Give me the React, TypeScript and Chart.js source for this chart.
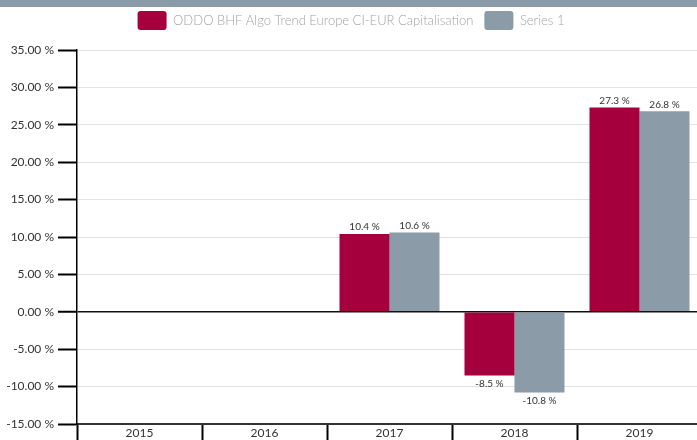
import React, { useEffect, useRef } from 'react';
import { Chart, registerables } from 'chart.js';
Chart.register(...registerables);

const categories = ['2015', '2016', '2017', '2018', '2019'];
const fundValues: (number | null)[] = [null, null, 10.4, -8.5, 27.3];
const seriesValues: (number | null)[] = [null, null, 10.6, -10.8, 26.8];
const seriesNames = ['ODDO BHF Algo Trend Europe CI-EUR Capitalisation', 'Series 1'];
const seriesColors = ['#a5003d', '#8b9ba8'];
const yMin = -15;
const yMax = 35;
const yStep = 5;

const FONT = 'Lato, "Open Sans", sans-serif';

const dataLabels = {
  id: 'dataLabels',
  afterDatasetsDraw(chart: any) {
    const ctx = chart.ctx;
    ctx.save();
    ctx.font = `10px ${FONT}`;
    ctx.fillStyle = '#333';
    ctx.textAlign = 'center';
    chart.data.datasets.forEach((ds: any, i: number) => {
      const meta = chart.getDatasetMeta(i);
      meta.data.forEach((bar: any, j: number) => {
        const v = ds.data[j];
        if (v == null) return;
        const txt = v.toFixed(1) + ' %';
        if (v >= 0) {
          ctx.textBaseline = 'bottom';
          ctx.fillText(txt, bar.x, bar.y - 2);
        } else {
          ctx.textBaseline = 'top';
          ctx.fillText(txt, bar.x, bar.y + 3);
        }
      });
    });
    ctx.restore();
  },
};

const legendHeight = {
  id: 'legendHeight',
  beforeInit(chart: any) {
    const l = chart.legend;
    if (!l) return;
    const orig = l.fit;
    l.fit = function () {
      orig.call(this);
      this.height = 50;
    };
  },
};

export default function App() {
  const ref = useRef<HTMLCanvasElement>(null);
  useEffect(() => {
    if (!ref.current) return;
    const chart = new Chart(ref.current, {
      type: 'bar',
      data: {
        labels: categories,
        datasets: [
          { label: seriesNames[0], data: fundValues as any, backgroundColor: seriesColors[0], categoryPercentage: 0.8, barPercentage: 1.0 },
          { label: seriesNames[1], data: seriesValues as any, backgroundColor: seriesColors[1], categoryPercentage: 0.8, barPercentage: 1.0 },
        ],
      },
      options: {
        responsive: false,
        animation: false,
        layout: { padding: 0 },
        plugins: {
          legend: {
            position: 'top',
            labels: {
              boxWidth: 29,
              boxHeight: 19,
              useBorderRadius: true,
              borderRadius: 3,
              color: '#a3a3a3',
              font: { family: FONT, size: 13, weight: '300' },
              padding: 11,
            },
          },
          tooltip: { enabled: false },
        },
        scales: {
          x: {
            ticks: { color: '#333', font: { family: FONT, size: 12 }, padding: -14 },
            grid: { drawOnChartArea: false, drawTicks: true, tickLength: 16, tickColor: '#000', tickWidth: 2, offset: true },
            border: { color: '#333', width: 2 },
            afterFit: (s: any) => { s.height = 16; },
          },
          y: {
            min: yMin,
            max: yMax,
            ticks: {
              stepSize: yStep,
              color: '#333',
              font: { family: FONT, size: 12 },
              padding: 4,
              callback: (v: any) => Number(v).toFixed(2) + ' %',
            },
            grid: {
              color: (c: any) => (c.tick && c.tick.value === 0 ? '#111' : '#e2e2e2'),
              lineWidth: (c: any) => (c.tick && c.tick.value === 0 ? 1.5 : 1),
              tickColor: '#000',
              tickWidth: 2,
              tickLength: 19,
            },
            border: { color: '#000', width: 1.5 },
            afterFit: (s: any) => { s.width = 77; },
          },
        },
      },
      plugins: [dataLabels, legendHeight],
    });
    return () => chart.destroy();
  }, []);
  return (
    <div style={{ position: 'fixed', left: 0, top: 0, width: 697, height: 440, overflow: 'hidden', background: '#fff' }}>
      <canvas ref={ref} width={702} height={440} style={{ position: 'absolute', left: 0, top: 0 }} />
      <div style={{ position: 'absolute', left: 0, top: 0, width: 697, height: 7, background: '#8a9aa7' }} />
    </div>
  );
}
